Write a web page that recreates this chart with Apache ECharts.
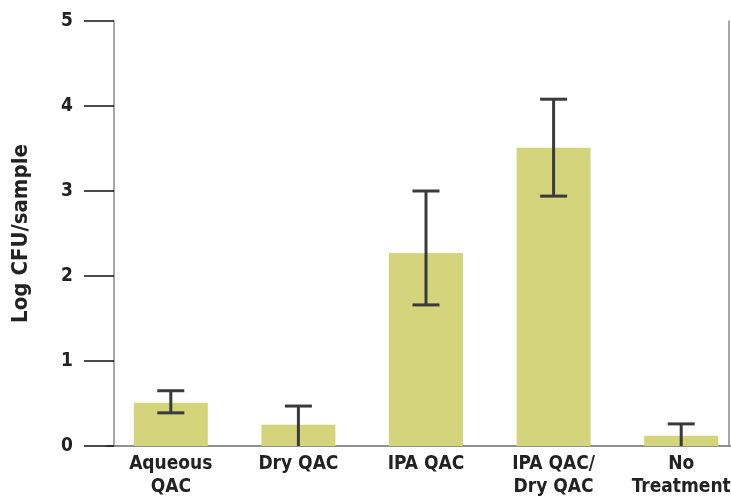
<!DOCTYPE html>
<html><head><meta charset="utf-8">
<script src="https://cdn.jsdelivr.net/npm/echarts@6/dist/echarts.min.js"></script>
<style>html,body{margin:0;padding:0;background:#fff}#c{width:731px;height:498px}</style>
</head><body><div id="c"></div>
<script>
const categories = ['Aqueous\nQAC', 'Dry QAC', 'IPA QAC', 'IPA QAC/\nDry QAC', 'No\nTreatment'];
const means = [0.51, 0.25, 2.27, 3.51, 0.12];
const errLow = [0.39, 0, 1.66, 2.94, 0];
const errHigh = [0.65, 0.47, 3.0, 4.08, 0.26];
const yTicks = [0, 1, 2, 3, 4, 5];

const FONT = "'Liberation Sans Narrow','DejaVu Sans Condensed','Roboto',sans-serif";
const chart = echarts.init(document.getElementById('c'), null, {renderer: 'canvas'});
const errData = categories.map((c, i) => [i, errLow[i], errHigh[i]]);

chart.setOption({
  animation: false,
  grid: {left: 107, top: 21, width: 638, height: 425, containLabel: false, outerBoundsMode: 'none'},
  xAxis: [{
    type: 'category', data: categories, position: 'bottom',
    axisLine: {lineStyle: {color: '#8a8a8a', width: 1.5}},
    axisTick: {show: false},
    axisLabel: {color: '#222', fontFamily: FONT, fontWeight: 'bold', fontSize: 19, lineHeight: 23, margin: 7, interval: 0}
  }, {
    type: 'category', data: categories, position: 'top',
    axisLine: {lineStyle: {color: '#8a8a8a', width: 1.5}},
    axisTick: {show: false}, axisLabel: {show: false}
  }],
  yAxis: [{
    type: 'value', min: 0, max: 5, interval: 1, offset: -7,
    name: 'Log CFU/sample', nameLocation: 'middle', nameGap: 82,
    nameTextStyle: {color: '#222', fontFamily: FONT, fontWeight: 'bold', fontSize: 22},
    axisLine: {show: true, lineStyle: {color: '#8a8a8a', width: 1.5}},
    axisTick: {show: true, length: 30, lineStyle: {color: '#111', width: 1.5}},
    axisLabel: {color: '#222', fontFamily: FONT, fontWeight: 'bold', fontSize: 19, margin: 41,
      formatter: v => yTicks.includes(v) ? String(v) : ''},
    splitLine: {show: false}
  }, {
    type: 'value', min: 0, max: 5, interval: 1, position: 'right', offset: -16,
    axisLine: {show: true, lineStyle: {color: '#8a8a8a', width: 1.5}},
    axisTick: {show: false}, axisLabel: {show: false}, splitLine: {show: false}
  }],
  series: [{
    type: 'bar', data: means, barWidth: 74,
    itemStyle: {color: '#d3d47c'}
  }, {
    type: 'custom', data: errData, z: 5,
    renderItem: function (params, api) {
      const x = api.value(0);
      const lo = api.coord([x, api.value(1)]);
      const hi = api.coord([x, api.value(2)]);
      const hw = 13.5;
      const style = {stroke: '#3a3a3a', lineWidth: 3};
      const children = [
        {type: 'line', shape: {x1: hi[0], y1: hi[1], x2: lo[0], y2: lo[1]}, style},
        {type: 'line', shape: {x1: hi[0] - hw, y1: hi[1], x2: hi[0] + hw, y2: hi[1]}, style}
      ];
      if (api.value(1) > 0) {
        children.push({type: 'line', shape: {x1: lo[0] - hw, y1: lo[1], x2: lo[0] + hw, y2: lo[1]}, style});
      }
      return {type: 'group', children};
    }
  }]
});
</script></body></html>
